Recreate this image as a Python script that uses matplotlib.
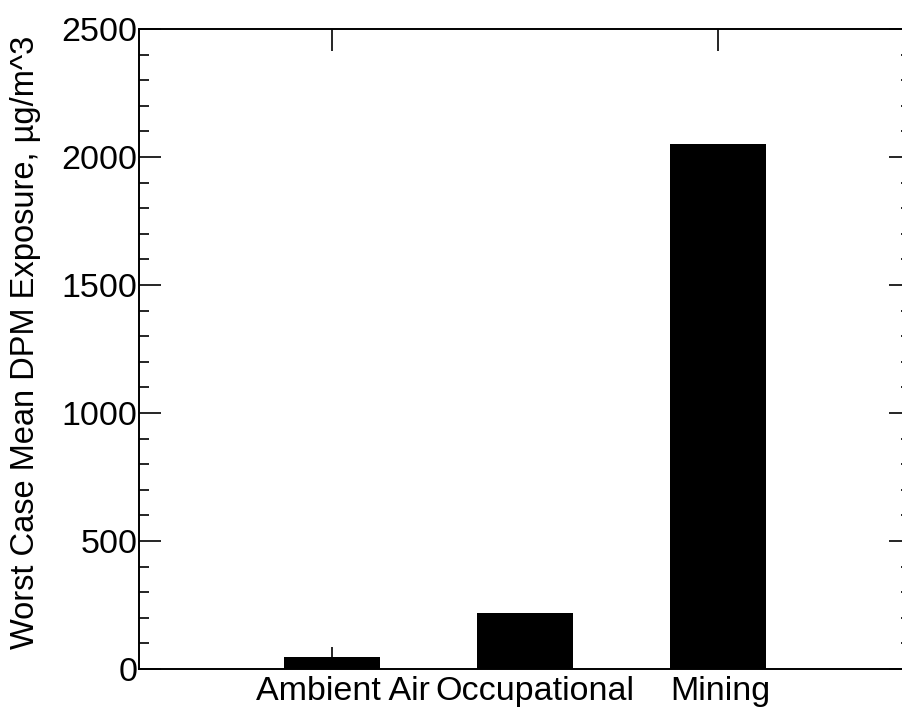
#!/usr/bin/env python3
import matplotlib
matplotlib.use('Agg')
import matplotlib.pyplot as plt
import matplotlib.transforms as mtransforms
from matplotlib.ticker import MultipleLocator

categories = ['Ambient Air', 'Occupational', 'Mining']
exposure = [45, 220, 2050]
positions = [1, 2, 3]
yticks = [0, 500, 1000, 1500, 2000, 2500]
label_shift = [11, 10, 2]  # px, labels sit a bit right of the bars in the original

plt.rcParams['font.family'] = ['Liberation Sans', 'DejaVu Sans']

W, H = 902, 709
fig = plt.figure(figsize=(W / 100, H / 100), dpi=100)
ax = fig.add_axes([139 / W, 1 - 669 / H, (911 - 139) / W, (669 - 29) / H])

ax.bar(positions, exposure, width=0.5, color='black')

ax.set_xlim(0, 4)
ax.set_ylim(0, 2500)
ax.set_yticks(yticks)
ax.yaxis.set_minor_locator(MultipleLocator(100))
ax.set_xticks(positions, categories)

ax.tick_params(axis='both', which='major', direction='in', length=15.5, width=1.2, labelsize=24.5)
ax.tick_params(axis='y', which='minor', direction='in', length=7.2, width=1.2)
ax.tick_params(axis='y', which='both', left=True, right=True, pad=1)
ax.tick_params(axis='x', which='both', top=True, bottom=True, pad=5)
for s in ax.spines.values():
	s.set_linewidth(1.4)

# no tick mark for the middle category, only its label
mid = ax.xaxis.get_major_ticks()[1]
mid.tick1line.set_markersize(0)
mid.tick2line.set_markersize(0)

for lab, dx in zip(ax.get_xticklabels(), label_shift):
	lab.set_transform(lab.get_transform() + mtransforms.ScaledTranslation(dx / 100, 0, fig.dpi_scale_trans))

ax.set_ylabel('Worst Case Mean DPM Exposure, µg/m^3', fontsize=23.5)
ax.yaxis.set_label_coords(-98 / 772, (669 - 342) / 640)

fig.savefig('out.png', dpi=100)
